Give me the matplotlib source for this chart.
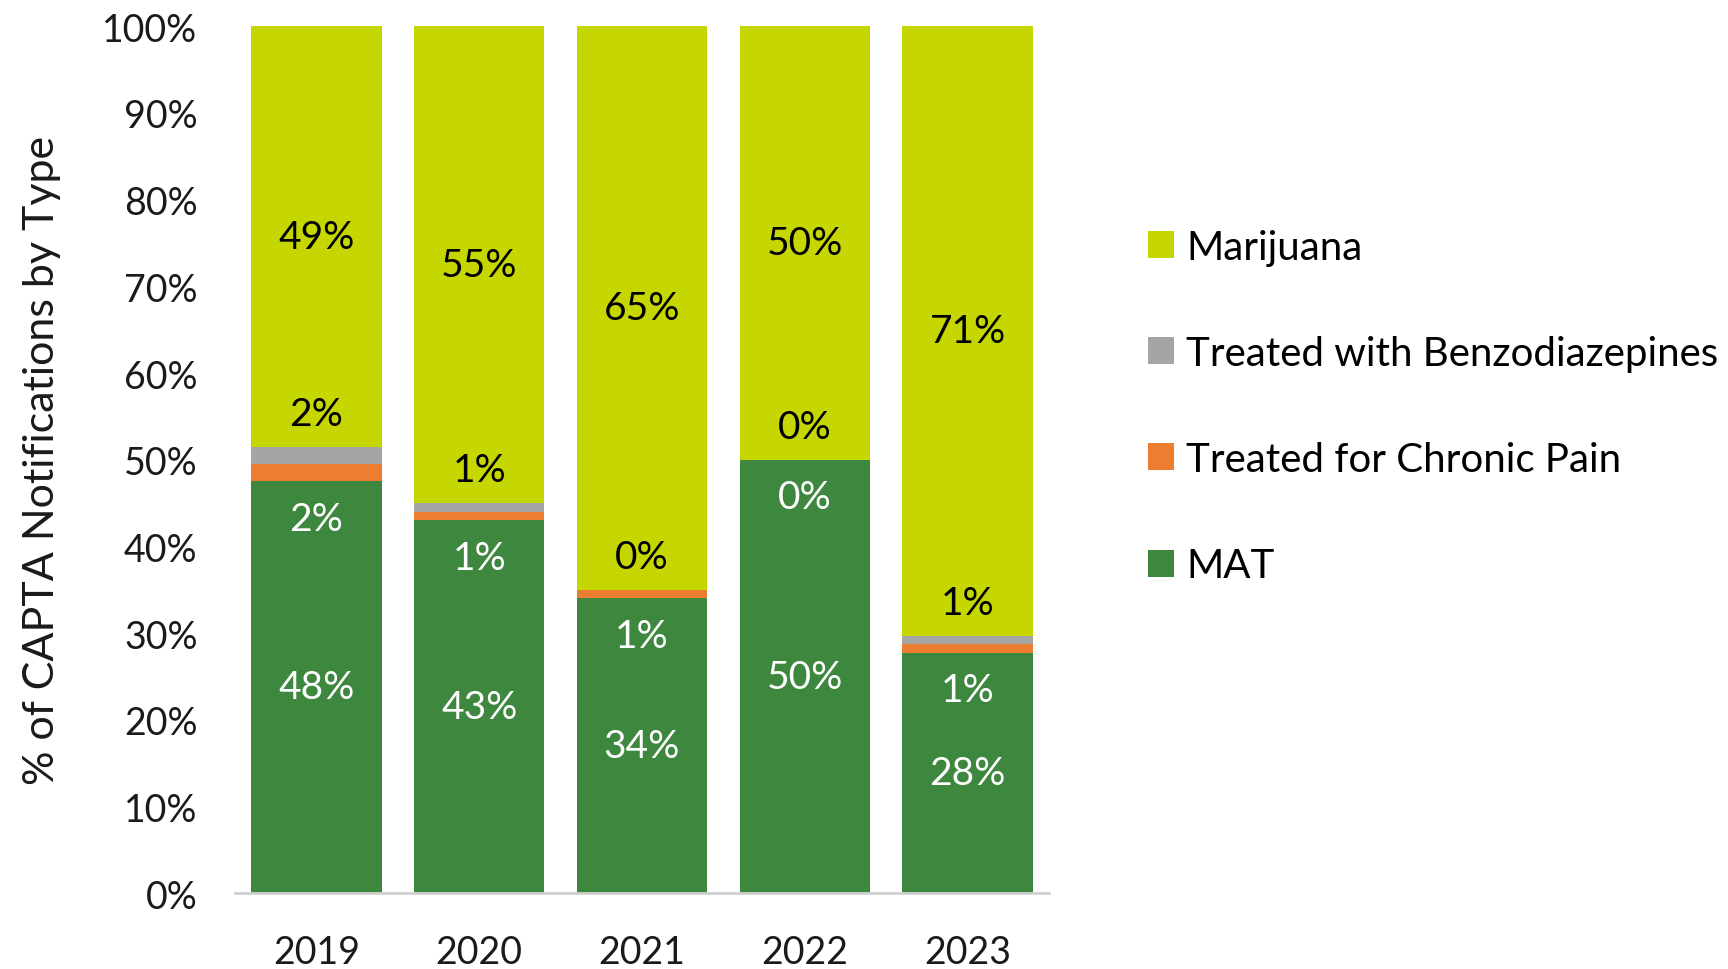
import matplotlib
matplotlib.use("Agg")
import matplotlib.pyplot as plt
import numpy as np
from matplotlib.patches import Patch
from matplotlib.ticker import PercentFormatter

years = ["2019", "2020", "2021", "2022", "2023"]
series_names = ["MAT", "Treated for Chronic Pain", "Treated with Benzodiazepines", "Marijuana"]
mat = [48, 43, 34, 50, 28]
chronic_pain = [2, 1, 1, 0, 1]
benzo = [2, 1, 0, 0, 1]
marijuana = [49, 55, 65, 50, 71]

colors = ["#3E873F", "#ED7D31", "#A5A5A5", "#C5D600"]
label_colors = ["white", "white", "black", "black"]

plt.rcParams["font.family"] = ["Lato", "DejaVu Sans"]

fig = plt.figure(figsize=(17.28, 9.70), dpi=100)
ax = fig.add_axes([0.136, 0.078, 0.471, 0.894])

raw = np.array([mat, chronic_pain, benzo, marijuana], dtype=float)
# 100% stacked: each year normalised to its total
shares = raw / raw.sum(axis=0) * 100
x = np.arange(len(years))

bottom = np.zeros(len(years))
for vals, shr, col, tcol, k in zip(raw, shares, colors, label_colors, range(4)):
    ax.bar(x, shr, bottom=bottom, width=0.8, color=col, zorder=2)
    for i in range(len(years)):
        if k == 1:
            y = bottom[i] - 4.3          # small slice: label sits below it
        elif k == 2:
            y = bottom[i] + shr[i] + 3.8  # small slice: label sits above it
        else:
            y = bottom[i] + shr[i] / 2
        ax.text(x[i], y, f"{vals[i]:.0f}%", ha="center", va="center",
                fontsize=28, color=tcol, zorder=3)
    bottom += shr

ax.set_xlim(-0.5, len(years) - 0.5)
ax.set_ylim(0, 100)
ax.set_yticks(np.arange(0, 101, 10))
ax.yaxis.set_major_formatter(PercentFormatter(decimals=0))
ax.set_xticks(x)
ax.set_xticklabels(years)
ax.tick_params(axis="y", length=0, labelsize=27, pad=27, colors="#1a1a1a")
ax.tick_params(axis="x", length=0, labelsize=27, pad=29, colors="#1a1a1a")
for side in ("top", "right", "left"):
    ax.spines[side].set_visible(False)
ax.spines["bottom"].set_color("#D0D0D0")
ax.spines["bottom"].set_linewidth(2)

ax.set_ylabel("% of CAPTA Notifications by Type", fontsize=31, color="#1a1a1a", labelpad=30)

handles = [Patch(facecolor=c) for c in colors[::-1]]
fig.legend(handles, series_names[::-1], loc="upper left", bbox_to_anchor=(0.655, 0.78),
           frameon=False, fontsize=29, handlelength=0.65, handleheight=0.65,
           handletextpad=0.3, labelspacing=1.72, borderaxespad=0)

fig.savefig("out.png", dpi=100, facecolor="white")
